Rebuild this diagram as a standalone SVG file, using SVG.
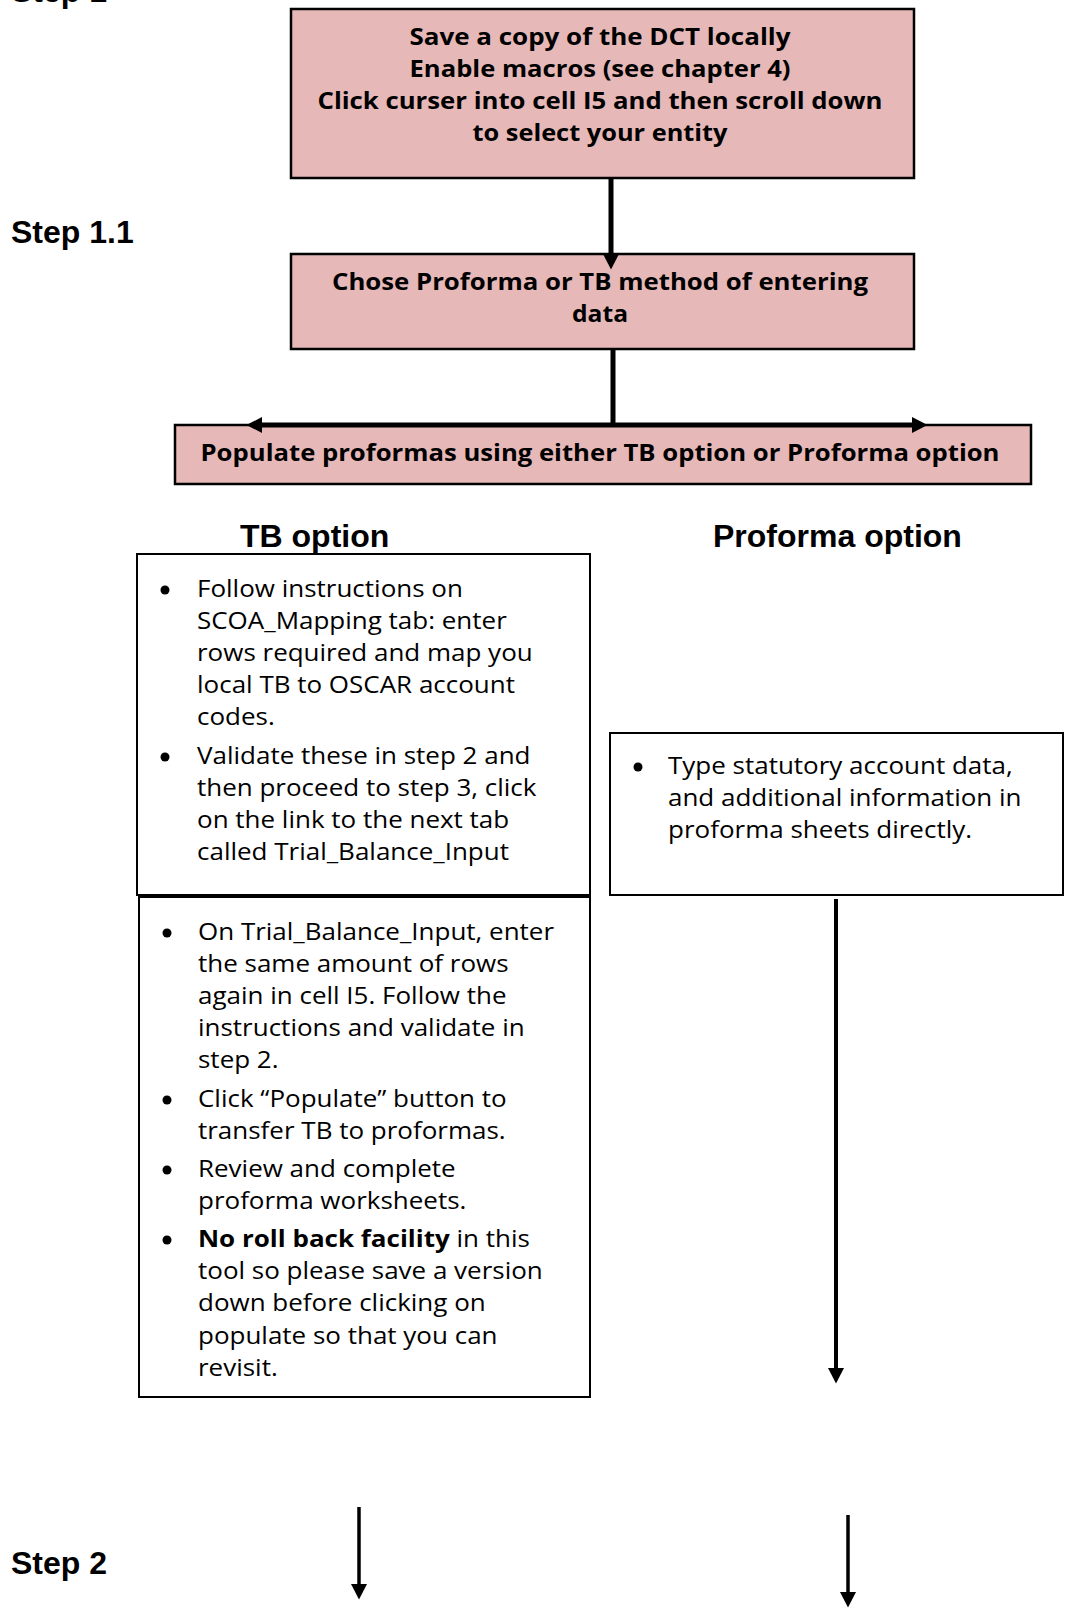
<svg xmlns="http://www.w3.org/2000/svg" width="1065" height="1618" viewBox="0 0 1065 1618">
<style>
.step{font-family:"Liberation Sans",Arial,sans-serif;font-weight:700;font-size:32px;fill:#000}
.pink{fill:#E6B8B7;stroke:#000;stroke-width:2.5}
.white{fill:#fff;stroke:#000;stroke-width:2}
.bt{font-family:"Open Sans","Noto Sans",sans-serif;font-weight:700;font-size:23px;fill:#000;text-anchor:middle}
.t{font-family:"Open Sans","Noto Sans",sans-serif;font-size:23.4px;fill:#000}
.b{font-weight:700}
.conn{stroke:#000;fill:none}
</style>
<defs>
<marker id="ah" markerUnits="userSpaceOnUse" markerWidth="16" markerHeight="16" refX="0" refY="8" orient="auto-start-reverse" viewBox="0 0 16 16">
<path d="M0,0 L15.5,8 L0,16 z" fill="#000"/>
</marker>
</defs>
<rect width="1065" height="1618" fill="#fff"/>

<g id="labels">
<text class="step" x="11" y="2">Step 1</text>
<text class="step" x="11" y="243">Step 1.1</text>
<text class="step" x="11" y="1574">Step 2</text>
<text class="step" x="240" y="547">TB option</text>
<text class="step" x="713" y="547">Proforma option</text>
</g>

<g id="node-save">
<rect class="pink" x="291" y="9" width="623" height="169"/>
<text class="bt" x="600" y="45" textLength="381" lengthAdjust="spacingAndGlyphs">Save a copy of the DCT locally</text>
<text class="bt" x="600" y="77" textLength="381" lengthAdjust="spacingAndGlyphs">Enable macros (see chapter 4)</text>
<text class="bt" x="600" y="109" textLength="565" lengthAdjust="spacingAndGlyphs">Click curser into cell I5 and then scroll down</text>
<text class="bt" x="600" y="141" textLength="255" lengthAdjust="spacingAndGlyphs">to select your entity</text>
</g>

<g id="node-chose">
<rect class="pink" x="291" y="254" width="623" height="95"/>
<text class="bt" x="600" y="290" textLength="536" lengthAdjust="spacingAndGlyphs">Chose Proforma or TB method of entering</text>
<text class="bt" x="600" y="322" textLength="56" lengthAdjust="spacingAndGlyphs">data</text>
</g>

<g id="node-populate">
<rect class="pink" x="175" y="425" width="856" height="59"/>
<text class="bt" x="600" y="461" textLength="799" lengthAdjust="spacingAndGlyphs">Populate proformas using either TB option or Proforma option</text>
</g>

<g id="node-tb1">
<rect class="white" x="137" y="554" width="453" height="341"/>
<circle cx="165" cy="590" r="4.5"/>
<circle cx="165" cy="757" r="4.5"/>
<g transform="translate(197 0) scale(1.111 1) translate(-197 0)">
<text class="t"><tspan x="197" y="597">Follow instructions on</tspan><tspan x="197" y="629">SCOA_Mapping tab: enter</tspan><tspan x="197" y="661">rows required and map you</tspan><tspan x="197" y="693">local TB to OSCAR account</tspan><tspan x="197" y="725">codes.</tspan><tspan x="197" y="764">Validate these in step 2 and</tspan><tspan x="197" y="796">then proceed to step 3, click</tspan><tspan x="197" y="828">on the link to the next tab</tspan><tspan x="197" y="860">called Trial_Balance_Input</tspan></text>
</g>
</g>

<g id="node-tb2">
<rect class="white" x="139" y="897" width="451" height="500"/>
<circle cx="167" cy="933" r="4.5"/>
<circle cx="167" cy="1100" r="4.5"/>
<circle cx="167" cy="1170" r="4.5"/>
<circle cx="167" cy="1240" r="4.5"/>
<g transform="translate(198 0) scale(1.111 1) translate(-198 0)">
<text class="t"><tspan x="198" y="940">On Trial_Balance_Input, enter</tspan><tspan x="198" y="972">the same amount of rows</tspan><tspan x="198" y="1004">again in cell I5. Follow the</tspan><tspan x="198" y="1036">instructions and validate in</tspan><tspan x="198" y="1068">step 2.</tspan><tspan x="198" y="1107">Click “Populate” button to</tspan><tspan x="198" y="1139">transfer TB to proformas.</tspan><tspan x="198" y="1177">Review and complete</tspan><tspan x="198" y="1209">proforma worksheets.</tspan><tspan x="198" y="1247" class="b">No roll back facility</tspan><tspan> in this</tspan><tspan x="198" y="1279">tool so please save a version</tspan><tspan x="198" y="1311">down before clicking on</tspan><tspan x="198" y="1344">populate so that you can</tspan><tspan x="198" y="1376">revisit.</tspan></text>
</g>
</g>

<g id="node-proforma">
<rect class="white" x="610" y="733" width="453" height="162"/>
<circle cx="638" cy="767" r="4.5"/>
<g transform="translate(668 0) scale(1.111 1) translate(-668 0)">
<text class="t"><tspan x="668" y="774">Type statutory account data,</tspan><tspan x="668" y="806">and additional information in</tspan><tspan x="668" y="838">proforma sheets directly.</tspan></text>
</g>
</g>

<g id="connectors">
<line class="conn" x1="611" y1="178" x2="611" y2="254" stroke-width="5" marker-end="url(#ah)"/>
<line class="conn" x1="613" y1="349" x2="613" y2="427" stroke-width="5"/>
<line class="conn" x1="262" y1="425" x2="912" y2="425" stroke-width="5" marker-start="url(#ah)" marker-end="url(#ah)"/>
<line class="conn" x1="836" y1="899" x2="836" y2="1368" stroke-width="4" marker-end="url(#ah)"/>
<line class="conn" x1="359" y1="1507" x2="359" y2="1584" stroke-width="3.5" marker-end="url(#ah)"/>
<line class="conn" x1="848" y1="1515" x2="848" y2="1592" stroke-width="3.5" marker-end="url(#ah)"/>
</g>
</svg>
